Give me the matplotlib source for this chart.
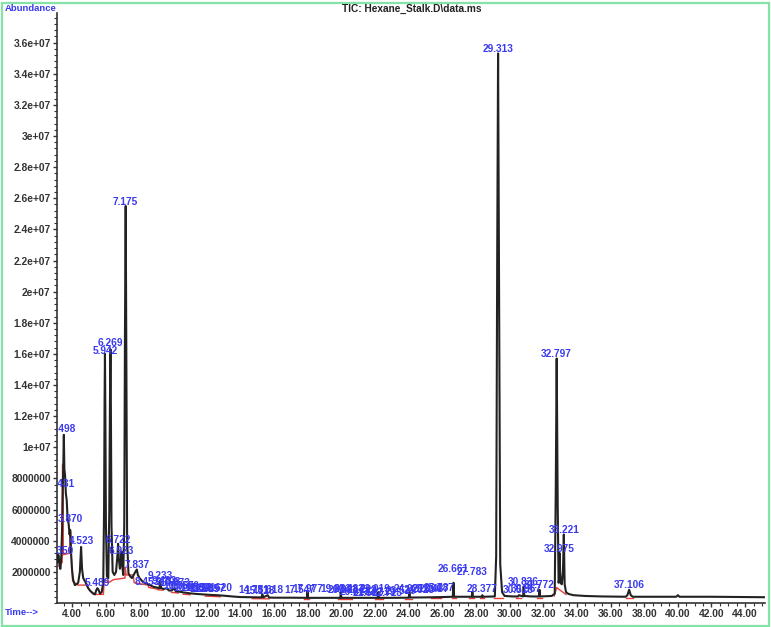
import matplotlib
matplotlib.use("Agg")
import matplotlib.pyplot as plt
from matplotlib.ticker import MultipleLocator, FuncFormatter, FixedLocator
from matplotlib.patches import Rectangle

plt.rcParams['font.family'] = ['Liberation Sans', 'DejaVu Sans']

# ---- total ion chromatogram trace (time in min, abundance x1e6) ----
trace_time = [3.09, 3.13, 3.17, 3.22, 3.27, 3.30, 3.35, 3.40, 3.43, 3.46, 3.498, 3.53, 3.57,
              3.62, 3.67, 3.72, 3.78, 3.84, 3.87, 3.92, 3.98, 4.05, 4.15, 4.25, 4.35, 4.45,
              4.523, 4.58, 4.65, 4.75, 4.85, 4.95, 5.05, 5.20, 5.35, 5.42, 5.489, 5.56, 5.65,
              5.75, 5.84, 5.89, 5.92, 5.942, 5.965, 6.00, 6.06, 6.14, 6.20, 6.24, 6.269, 6.295,
              6.33, 6.40, 6.50, 6.60,
              6.68, 6.722, 6.77, 6.83, 6.88, 6.923, 6.97, 7.03, 7.09, 7.13, 7.175, 7.21, 7.26,
              7.34, 7.45, 7.55, 7.65, 7.75, 7.837, 7.90, 8.00, 8.20, 8.40, 8.60, 8.80, 9.00,
              9.18, 9.233, 9.28, 9.45, 9.60, 9.75, 9.90, 10.073, 10.15, 10.40, 10.60, 10.80,
              11.00, 11.40, 11.80, 12.20, 12.60, 13.00, 13.50, 14.00, 14.50, 15.00, 15.25,
              15.30, 15.35, 15.618, 15.70, 16.00, 17.00, 17.60, 17.95, 17.98, 18.02, 18.40,
              19.50, 19.93, 19.96, 20.00, 20.40, 21.00, 22.15, 22.19, 22.23, 23.00, 24.00,
              24.04, 24.08, 25.00, 26.00, 26.62, 26.661, 26.70, 27.20, 27.75, 27.783, 27.82,
              28.35, 28.377, 28.41, 29.12, 29.20, 29.26, 29.313, 29.37, 29.44, 29.55, 29.70,
              30.20, 30.50, 30.55, 30.80, 30.836, 30.87, 31.30, 31.74, 31.772, 31.81, 32.50,
              32.68, 32.74, 32.797, 32.86, 32.91, 32.94, 32.975, 33.02, 33.10, 33.17, 33.221,
              33.27, 33.35, 33.50, 33.80, 34.50, 35.50, 36.90, 37.00, 37.106, 37.20, 37.32,
              38.50, 39.90, 40.00, 40.10, 42.00, 44.00, 45.18]
trace_abund = [3.0, 2.6, 3.1, 2.7, 2.2, 2.2, 3.1, 5.0, 7.4, 8.5, 10.8, 8.6, 8.2,
               7.0, 6.6, 5.4, 5.1, 4.4, 4.7, 3.4, 2.2, 1.5, 1.15, 1.2, 1.3, 2.0,
               3.6, 2.2, 1.6, 1.4, 1.2, 0.95, 0.8, 0.65, 0.55, 0.8, 0.95, 0.85, 0.6,
               0.7, 1.3, 6.0, 13.0, 16.0, 12.5, 5.0, 1.7, 1.6, 6.0, 13.0, 16.3, 12.5,
               5.0, 2.0, 1.8, 2.0,
               3.0, 3.8, 2.8, 2.2, 2.6, 3.3, 2.4, 1.8, 5.0, 17.0, 25.5, 16.0, 4.0,
               1.9, 1.7, 1.6, 1.8, 2.0, 2.15, 1.8, 1.6, 1.35, 1.25, 1.15, 1.05, 1.0,
               0.95, 1.45, 0.95, 0.9, 0.95, 0.8, 0.8, 0.95, 0.75, 0.72, 0.68, 0.65,
               0.62, 0.58, 0.55, 0.52, 0.5, 0.47, 0.42, 0.38, 0.37, 0.36, 0.36,
               0.55, 0.36, 0.5, 0.35, 0.34, 0.34, 0.33, 0.33, 0.75, 0.33, 0.33,
               0.33, 0.33, 0.7, 0.33, 0.33, 0.33, 0.33, 0.7, 0.33, 0.33, 0.34,
               0.7, 0.35, 0.36, 0.38, 0.4, 1.3, 0.4, 0.4, 0.4, 0.7, 0.4,
               0.4, 0.5, 0.4, 0.42, 3.0, 22.0, 35.3, 20.0, 2.5, 0.7, 0.45,
               0.42, 0.42, 0.5, 0.42, 1.05, 0.45, 0.42, 0.42, 0.85, 0.42, 0.45,
               0.6, 7.0, 15.7, 6.0, 1.3, 1.5, 3.2, 1.3, 1.2, 2.0, 4.4,
               1.2, 0.7, 0.58, 0.5, 0.45, 0.42, 0.4, 0.5, 0.85, 0.5, 0.4,
               0.4, 0.4, 0.5, 0.4, 0.4, 0.38, 0.37]

# ---- integration baselines (red) ----
red_segments = [
    [(3.20, 2.4), (3.40, 2.6), (3.42, 8.9), (3.45, 8.9), (3.47, 3.1), (3.85, 3.2),
     (3.87, 4.7), (3.92, 4.6), (3.94, 3.0), (4.02, 1.4), (4.34, 1.15), (4.85, 1.15),
     (4.90, 1.0), (5.25, 0.55), (5.85, 0.55), (5.90, 1.5), (6.10, 1.4), (6.15, 1.3),
     (6.45, 1.5), (7.13, 1.6), (7.15, 2.3), (7.20, 1.8), (7.62, 1.8), (7.68, 1.3),
     (8.50, 1.15), (8.55, 1.0), (9.10, 0.88)],
    [(9.10, 0.85), (9.40, 0.82)],
    [(9.90, 0.68), (10.30, 0.64)],
    [(10.60, 0.56), (11.00, 0.53)],
    [(11.90, 0.44), (12.80, 0.4)],
    [(14.70, 0.28), (15.70, 0.27)],
    [(17.80, 0.25), (18.10, 0.25)],
    [(19.80, 0.25), (20.60, 0.25)],
    [(22.00, 0.25), (22.50, 0.25)],
    [(23.80, 0.27), (24.20, 0.27)],
    [(25.30, 0.3), (25.90, 0.3)],
    [(26.55, 0.3), (26.80, 0.3)],
    [(27.60, 0.3), (27.90, 0.3)],
    [(28.25, 0.32), (28.50, 0.32)],
    [(29.10, 0.35), (29.60, 0.35)],
    [(30.40, 0.35), (30.70, 0.35)],
    [(31.65, 0.35), (31.90, 0.35)],
    [(32.65, 0.45), (32.80, 1.0), (32.90, 0.9), (33.35, 0.55)],
    [(36.90, 0.3), (37.35, 0.3)],
]

# ---- peak labels (retention time, label height x1e6) ----
label_rt = [3.350, 3.431, 3.498, 3.870, 4.523, 5.489, 5.942, 6.269, 6.722, 6.923, 7.175,
            7.837, 8.453, 9.233, 9.483, 9.708, 10.073, 10.355, 10.620, 10.953, 11.354,
            11.621, 11.889, 12.157, 12.620, 14.781, 15.118, 15.618, 17.547, 17.977,
            19.683, 20.083, 20.483, 20.813, 21.223, 21.587, 22.019, 22.319, 22.715,
            23.529, 24.021, 24.623, 25.096, 25.487, 25.787, 26.661, 27.783, 28.377,
            29.313, 30.518, 30.836, 30.967, 31.772, 32.797, 32.975, 33.221, 37.106]
label_abund = [3.0, 7.3, 10.8, 5.0, 3.6, 0.9, 15.8, 16.3, 3.7, 3.0, 25.4,
               2.1, 1.0, 1.35, 1.05, 0.95, 0.9, 0.75, 0.7, 0.62, 0.58,
               0.58, 0.55, 0.55, 0.58, 0.45, 0.42, 0.48, 0.45, 0.52,
               0.5, 0.45, 0.5, 0.32, 0.45, 0.3, 0.5, 0.32, 0.3,
               0.4, 0.5, 0.45, 0.55, 0.55, 0.6, 1.8, 1.6, 0.5,
               35.2, 0.45, 1.0, 0.5, 0.77, 15.6, 3.1, 4.3, 0.77]

title = "TIC: Hexane_Stalk.D\\data.ms"
SCALE = 1e6

fig = plt.figure(figsize=(7.71, 6.27), dpi=100)
fig.patches.append(Rectangle((0.002, 0.002), 0.996, 0.994, transform=fig.transFigure,
                             fill=False, edgecolor='#86e3a6', linewidth=1.6))
ax = fig.add_axes([0.0739, 0.0383, 0.9183, 0.941])

for seg in red_segments:
    ax.plot([p[0] for p in seg], [p[1] * SCALE for p in seg], color='#e8403a', lw=1.0, zorder=2)
ax.plot(trace_time, [a * SCALE for a in trace_abund], color='#222222', lw=1.5, zorder=3)

for rt, ab in zip(label_rt, label_abund):
    ax.text(rt, ab * SCALE + 0.05 * SCALE, f"{rt:.3f}", ha='center', va='bottom',
            color='#3a3af0', fontsize=7.3, fontweight='bold', clip_on=True, zorder=4)

ax.set_xlim(3.09, 45.18)
ax.set_ylim(0, 3.79e7)
ax.spines['top'].set_visible(False)
ax.spines['right'].set_visible(False)
for s in ('left', 'bottom'):
    ax.spines[s].set_color('#333333')
    ax.spines[s].set_linewidth(1.2)

ax.xaxis.set_major_locator(FixedLocator([4 + 2 * i for i in range(21)]))
ax.xaxis.set_minor_locator(MultipleLocator(0.5))
ax.xaxis.set_major_formatter(FuncFormatter(lambda v, p: f"{v:.2f}"))
ax.yaxis.set_major_locator(FixedLocator([2e6 * i for i in range(1, 19)]))
ax.yaxis.set_minor_locator(MultipleLocator(4e5))


def yfmt(v, p):
    if v < 1e7:
        return str(int(round(v)))
    return "%g" % v


ax.yaxis.set_major_formatter(FuncFormatter(yfmt))
ax.tick_params(axis='both', which='major', length=3, width=1, color='#333333',
               labelsize=7.4, labelcolor='#333333', pad=1.5)
ax.tick_params(axis='both', which='minor', length=2, width=0.8, color='#333333')
for lab in ax.get_xticklabels() + ax.get_yticklabels():
    lab.set_fontweight('bold')

fig.text(0.534, 0.986, title, ha='center', va='center', fontsize=7.3,
         fontweight='bold', color='#222222')
fig.text(0.006, 0.986, "Abundance", ha='left', va='center', fontsize=6.8,
         fontweight='bold', color='#3a3af0')
fig.text(0.006, 0.023, "Time-->", ha='left', va='center', fontsize=6.8,
         fontweight='bold', color='#3a3af0')

fig.savefig("out.png", dpi=100)
